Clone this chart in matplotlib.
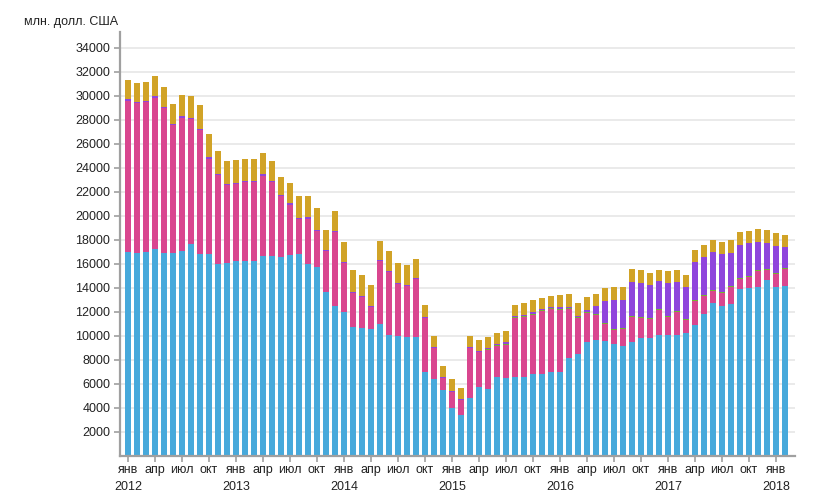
import matplotlib
matplotlib.use('Agg')
import matplotlib.pyplot as plt
import numpy as np

plt.rcParams['font.family'] = ['Liberation Sans', 'DejaVu Sans']

# месяцы: янв 2012 ... фев 2018
months = ['янв', 'фев', 'мар', 'апр', 'май', 'июн', 'июл', 'авг', 'сен', 'окт', 'ноя', 'дек']
years = list(range(2012, 2019))
periods = [(y, m) for y in years for m in range(12)][:74]

# слои, млн. долл. США (снизу вверх)
blue = [16970, 16890, 16970, 17220, 16890, 16890, 17060, 17640, 16810, 16810, 15970, 16060,
        16220, 16220, 16220, 16640, 16640, 16560, 16720, 16810, 15970, 15720, 13640, 12470,
        11970, 10750, 10640, 10580, 10970, 10080, 9970, 9920, 9920, 7000, 6420, 5470,
        3970, 3390, 4810, 5720, 5560, 6560, 6470, 6560, 6560, 6810, 6810, 6970,
        6970, 8140, 8470, 9470, 9640, 9560, 9310, 9140, 9470, 9810, 9810, 10060,
        10060, 10060, 10220, 10890, 11810, 12720, 12470, 12640, 13890, 13970, 14060, 14640,
        14060, 14140]
pink = [12610, 12530, 12500, 12580, 12080, 10690, 11080, 10420, 10330, 7910, 7450, 6520,
        6420, 6590, 6590, 6670, 6170, 5080, 4200, 2910, 3810, 3030, 3440, 6170,
        4110, 2860, 2610, 1840, 5280, 5230, 4340, 4220, 4830, 4470, 2550, 1030,
        1360, 1280, 4160, 2920, 3250, 2580, 2780, 4910, 5000, 4910, 5250, 5250,
        5170, 4080, 3000, 2420, 2080, 1410, 1160, 1420, 2090, 1660, 1580, 2080,
        1500, 1910, 1090, 2000, 1500, 1000, 1090, 1440, 830, 920, 1330, 830,
        1080, 1420]
green = [0] * 40 + [80, 80, 80, 90, 80, 90, 80, 90,
                    80, 90, 90, 80, 90, 90, 90, 80, 80, 90, 80, 80,
                    80, 90, 80, 80, 80, 90, 80, 90, 90, 80, 80, 90,
                    80, 80]
purple = [170, 80, 110, 170, 110, 90, 170, 80, 110, 200, 80, 90,
          110, 110, 110, 160, 110, 110, 140, 90, 110, 80, 90, 110,
          60, 60, 80, 80, 80, 80, 110, 110, 80, 90, 90, 80,
          90, 80, 90, 110, 80, 90, 140, 80, 80, 160, 80, 80,
          170, 80, 80, 170, 660, 1830, 2410, 2330, 2830, 2830, 2750, 2340,
          2750, 2410, 2670, 3170, 3170, 3160, 3170, 2720, 2750, 2750, 2340, 2160,
          2250, 1750]
gold = [1560, 1560, 1560, 1670, 1640, 1640, 1750, 1830, 1970, 1890, 1890, 1890,
        1890, 1800, 1800, 1750, 1640, 1470, 1660, 1830, 1750, 1810, 1640, 1640,
        1670, 1800, 1730, 1720, 1560, 1670, 1640, 1640, 1560, 1000, 910, 890,
        970, 890, 910, 890, 920, 910, 920, 920, 1000, 1000, 920, 920,
        1000, 1080, 1080, 1080, 1000, 1080, 1090, 1090, 1090, 1080, 1000, 910,
        1000, 1000, 1000, 1000, 1000, 1000, 1000, 1080, 1080, 1000, 1080, 1090,
        1090, 1000]

layers = [blue, pink, green, purple, gold]
colors = ['#47a9db', '#d9468f', '#74b530', '#8f45dc', '#d1a327']

fig = plt.figure(figsize=(8.33, 5.03), dpi=100)
ax = fig.add_axes([120 / 833, 47 / 503, 675 / 833, 424 / 503])

x = np.arange(len(periods))
bottom = np.zeros(len(periods))
for vals, col in zip(layers, colors):
    vals = np.array(vals, dtype=float)
    ax.bar(x, vals, bottom=bottom, width=0.67, color=col, linewidth=0)
    bottom += vals

ax.set_xlim(-0.89, 74.1)
ax.set_ylim(0, 35330)
ax.set_yticks(range(2000, 34001, 2000))
ax.set_yticklabels([str(v) for v in range(2000, 34001, 2000)], fontsize=9, color='#222222')
ax.yaxis.grid(True, color='#e8e8e8', linewidth=1.3)
ax.set_axisbelow(True)

tick_pos = [i for i, (y, m) in enumerate(periods) if m % 3 == 0]
tick_lab = []
for i in tick_pos:
    y, m = periods[i]
    tick_lab.append(months[m] + ('\n' + str(y) if m == 0 else '\n'))
ax.set_xticks(tick_pos)
ax.set_xticklabels(tick_lab, fontsize=9, color='#222222', linespacing=1.55)

for side in ['top', 'right']:
    ax.spines[side].set_visible(False)
for side in ['left', 'bottom']:
    ax.spines[side].set_color('#a0a0a0')
    ax.spines[side].set_linewidth(1.6)
ax.tick_params(axis='both', colors='#a0a0a0', labelcolor='#222222', length=4, width=1.2)
ax.tick_params(axis='y', pad=3)
ax.tick_params(axis='x', pad=2)

fig.text(118 / 833, 1 - 22 / 503, 'млн. долл. США', ha='right', va='center', fontsize=9, color='#222222')

fig.savefig('out.png', dpi=100)
